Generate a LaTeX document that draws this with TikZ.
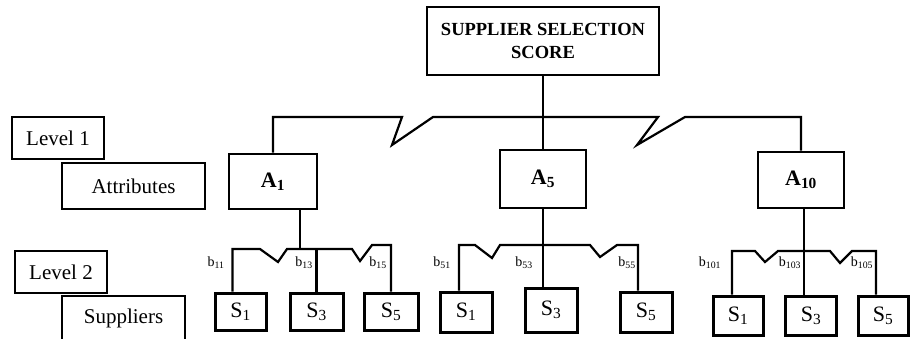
\documentclass[tikz,border=0pt]{standalone}
\usepackage{fontspec}
\setmainfont{Liberation Serif}
\tikzset{
  box/.style={draw, line width=2.6pt, inner sep=0pt, align=center, font=\fontsize{21}{25}\selectfont},
  sbox/.style={box, line width=3pt, font=\fontsize{22}{26}\selectfont},
  abox/.style={box, font=\fontsize{22}{26}\selectfont\bfseries},
  link/.style={line width=2.2pt},
  wt/.style={inner sep=0pt, font=\fontsize{14}{16}\selectfont},
}
\begin{document}
\begin{tikzpicture}[x=1pt,y=-1pt]
\useasboundingbox (0,0) rectangle (910,338);
% top of the hierarchy
\node[box, minimum width=232pt, minimum height=68pt, font=\fontsize{18.5}{23}\selectfont\bfseries] (score) at (543,41) {SUPPLIER SELECTION\\SCORE};
% level labels
\node[box, minimum width=92pt, minimum height=42pt] (lev1) at (58,138) {Level 1};
\node[box, minimum width=143pt, minimum height=46pt] (attr) at (133.5,186) {Attributes};
\node[box, minimum width=92pt, minimum height=42pt] (lev2) at (61,272) {Level 2};
\node[box, minimum width=123pt, minimum height=44pt] (supp) at (123.5,318) {Suppliers};
% level 1
\node[abox, minimum width=88pt, minimum height=55pt] (a1) at (273,181.5) {A\textsubscript{1}};
\node[abox, minimum width=86pt, minimum height=58pt] (a5) at (543,179) {A\textsubscript{5}};
\node[abox, minimum width=86pt, minimum height=56pt] (a10) at (801,180) {A\textsubscript{10}};
\draw[link] (a1.north) |- (402,117) -- (392,145) -- (433,117) -- (658,117) -- (637,145) -- (685,117) -| (a10.north);
\draw[link] (score.south) -- (a5.north);
% level 2, A1
\node[sbox, minimum width=51pt, minimum height=37pt] (s11) at (240.5,311.5) {S\textsubscript{1}};
\node[sbox, minimum width=53pt, minimum height=37pt] (s13) at (316.5,311.5) {S\textsubscript{3}};
\node[sbox, minimum width=54pt, minimum height=37pt] (s15) at (391,311.5) {S\textsubscript{5}};
\coordinate (j1) at (300,249);
\draw[link] ([xshift=27]a1.south) -- (j1);
\draw[link] ([xshift=-8]s11.north) |- (260,249) -- (278,262) -- (287,249) -- (j1) -- (352,249) -- (360,261) -- (372,245) -| (s15.north);
\draw[link] (s13.north) -- (s13.north |- j1);
\node[wt] (b11) at (216,263) {b\textsubscript{11}};
\node[wt] (b13) at (304,263) {b\textsubscript{13}};
\node[wt] (b15) at (378,263) {b\textsubscript{15}};
% level 2, A5
\node[sbox, minimum width=52pt, minimum height=40pt] (s51) at (466,312) {S\textsubscript{1}};
\node[sbox, minimum width=52pt, minimum height=44pt] (s53) at (551,310) {S\textsubscript{3}};
\node[sbox, minimum width=52pt, minimum height=40pt] (s55) at (646,312) {S\textsubscript{5}};
\draw[link] (a5.south) -- ([xshift=-8]s53.north);
\draw[link] ([xshift=-7]s51.north) |- (475,245) -- (492,258) -- (500,245) -- (590,245) -- (600,257) -- (617,245) -| ([xshift=-8]s55.north);
\node[wt] (b51) at (442,263) {b\textsubscript{51}};
\node[wt] (b53) at (524,263) {b\textsubscript{53}};
\node[wt] (b55) at (627,263) {b\textsubscript{55}};
% level 2, A10
\node[sbox, minimum width=50pt, minimum height=39pt] (s101) at (738,315.5) {S\textsubscript{1}};
\node[sbox, minimum width=51pt, minimum height=39pt] (s103) at (811,315.5) {S\textsubscript{3}};
\node[sbox, minimum width=50pt, minimum height=39pt] (s105) at (883,315.5) {S\textsubscript{5}};
\draw[link] ([xshift=3]a10.south) -- ([xshift=-7]s103.north);
\draw[link] ([xshift=-6]s101.north) |- (755,251) -- (765,262) -- (778,251) -- (830,251) -- (840,263) -- (852,251) -| ([xshift=-7]s105.north);
\node[wt] (b101) at (710,263) {b\textsubscript{101}};
\node[wt] (b103) at (790,263) {b\textsubscript{103}};
\node[wt] (b105) at (862,263) {b\textsubscript{105}};
\end{tikzpicture}
\end{document}
